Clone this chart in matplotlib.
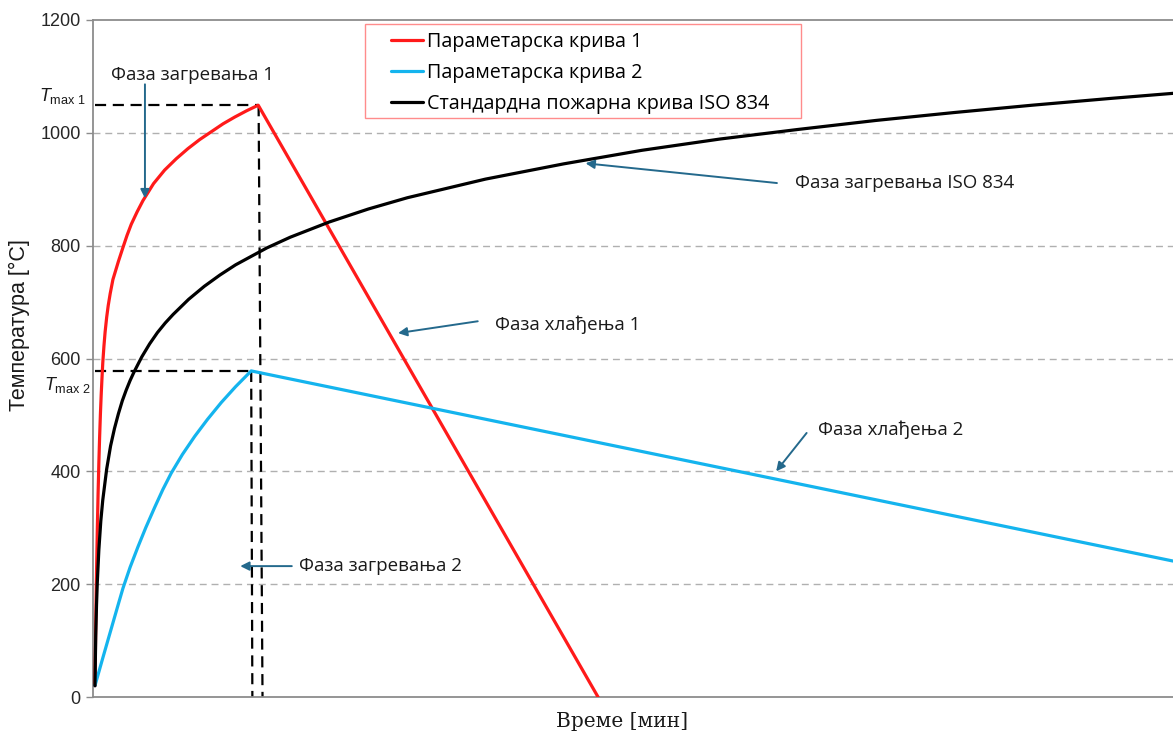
import matplotlib
matplotlib.use("Agg")
import matplotlib.pyplot as plt
import matplotlib.transforms as mtransforms
from matplotlib.patches import Rectangle

# ---- data (time in minutes, temperature in °C) ----
time_param1 = [0, 0.1, 0.2, 0.3, 0.4, 0.5, 0.6, 0.7, 0.8, 0.9, 1.0, 1.15, 1.3,
               1.5, 1.7, 1.95, 2.3, 3.0, 3.59, 4.1, 4.65, 5.4, 6.15, 7.5, 8.92,
               10.4, 11.9, 13.4, 14.9, 16.4, 17.9, 19.4, 20.9, 64.4]
temp_param1 = [20, 128, 219, 295, 360, 415, 462, 502, 536, 565, 592, 622, 647,
               673, 694, 715, 740, 772, 797, 818, 838, 860, 880, 910, 934,
               954, 972, 988, 1002, 1016, 1028, 1039, 1049, 0]

time_param2 = [0, 1, 2, 3, 3.59, 4.5, 5.5, 6.5, 7.64, 8.7, 9.77, 11.2, 12.77,
               14.4, 16.17, 18.0, 20.0, 138.0]
temp_param2 = [20, 69, 117, 165, 193, 230, 266, 300, 336, 368, 397, 430, 462,
               492, 522, 550, 578, 241]

time_iso = [0, 0.1, 0.2, 0.3, 0.5, 0.75, 1.0, 1.5, 2.0, 2.5, 3.0, 3.5, 4.0,
            4.5, 5.0, 6.0, 7.0, 8.0, 9.0, 10, 12, 14, 16, 18, 20, 22, 25, 30,
            35, 40, 50, 60, 70, 80, 90, 100, 110, 120, 130, 138]
temp_iso = [20, 108, 163, 203, 261, 312, 349, 404, 445, 476, 502, 525, 544,
            561, 576, 603, 626, 646, 663, 678, 705, 728, 748, 766, 781, 796,
            815, 842, 865, 885, 918, 945, 969, 989, 1006, 1022, 1036, 1049,
            1061, 1070]

series_labels = ["Параметарска крива 1", "Параметарска крива 2",
                 "Стандардна пожарна крива ISO 834"]
y_ticks = [0, 200, 400, 600, 800, 1000, 1200]

i_peak1 = temp_param1.index(max(temp_param1))
i_peak2 = temp_param2.index(max(temp_param2))
t_max1, T_max1 = time_param1[i_peak1], temp_param1[i_peak1]
t_max2, T_max2 = time_param2[i_peak2], temp_param2[i_peak2]

# ---- style ----
plt.rcParams["mathtext.fontset"] = "custom"
plt.rcParams["mathtext.rm"] = "Liberation Sans"
plt.rcParams["mathtext.it"] = "Liberation Sans:italic"
ANN_FONT = ["Open Sans", "DejaVu Sans"]
ANN_SIZE = 13.5
LEG_SIZE = 14.2
ARROW_COL = "#24698c"
RED = "#ff1a1a"
BLUE = "#14b4ee"

W, H = 1173, 737
fig = plt.figure(figsize=(W / 100, H / 100), dpi=100)
ax = fig.add_axes([93 / W, 1 - 697 / H, 1 - 93 / W, (697 - 20) / H])

ax.set_xlim(-0.25, 138)
ax.set_ylim(0, 1200)

# grid
for y in y_ticks[1:-1]:
    ax.axhline(y, color="#b0b0b0", lw=1.0, ls=(0, (5, 3.5)), zorder=1)

# reference dashed lines for the peaks
dash_kw = dict(color="black", lw=1.6, ls=(0, (5, 3)), zorder=2)
ax.plot([0, t_max1], [T_max1, T_max1], **dash_kw)
ax.plot([t_max1 + 0.05, t_max1 + 0.55], [T_max1, 0], **dash_kw)
ax.plot([0, t_max2], [T_max2, T_max2], **dash_kw)
ax.plot([t_max2, t_max2 + 0.15], [T_max2, 0], **dash_kw)

line_kw = dict(lw=2.3, zorder=4, solid_joinstyle="round", solid_capstyle="round")
l1, = ax.plot(time_param1, temp_param1, color=RED, label=series_labels[0], **line_kw)
l2, = ax.plot(time_param2, temp_param2, color=BLUE, label=series_labels[1], **line_kw)
l3, = ax.plot(time_iso, temp_iso, color="black", label=series_labels[2], **line_kw)

# axes styling
ax.set_xticks([])
ax.set_yticks(y_ticks)
ax.set_yticklabels([str(v) for v in y_ticks], fontsize=13,
                   family="Liberation Sans", color="#262626")
ax.tick_params(axis="y", length=5, width=1.0, color="#8c8c8c", pad=4)
for side in ("left", "bottom", "top"):
    ax.spines[side].set_color("#8c8c8c")
    ax.spines[side].set_linewidth(1.3)
ax.spines["right"].set_visible(False)

ax.set_ylabel("Температура [°C]", fontsize=15.5, family="Liberation Sans",
              color="#1a1a1a")
ax.yaxis.set_label_coords(-0.058, 0.55)
ax.set_xlabel("Време [мин]", fontsize=14.5, family="DejaVu Serif",
              color="#1a1a1a")
ax.xaxis.set_label_coords(0.49, -0.022)

# T_max labels beside the axis
blend = mtransforms.blended_transform_factory(ax.transAxes, ax.transData)
ax.text(-0.0065, 1056, r"$T_{\rm max\ 1}$", transform=blend, ha="right",
        va="baseline", fontsize=13, color="#1a1a1a", clip_on=False)
ax.text(-0.0025, 544, r"$T_{\rm max\ 2}$", transform=blend, ha="right",
        va="baseline", fontsize=13, color="#1a1a1a", clip_on=False)

# phase annotations
def phase(text, xytext, xyarrow, tail):
    ax.text(xytext[0], xytext[1], text, fontsize=ANN_SIZE, family=ANN_FONT,
            color="#1a1a1a", ha="left", va="center", zorder=6)
    ax.annotate("", xy=xyarrow, xytext=tail,
                arrowprops=dict(arrowstyle="-|>", color=ARROW_COL, lw=1.4,
                                mutation_scale=13, shrinkA=0, shrinkB=0),
                zorder=6)

phase("Фаза загревања 1", (2.1, 1102), (6.4, 884), (6.4, 1086))
phase("Фаза загревања ISO 834", (89.6, 911), (62.8, 946), (87.3, 911))
phase("Фаза хлађења 1", (51.2, 659), (38.8, 645), (49.0, 666))
phase("Фаза хлађења 2", (92.5, 473), (87.2, 400), (91.1, 468))
phase("Фаза загревања 2", (26.1, 232), (18.6, 232), (25.2, 232))

# legend box and entries
frame = Rectangle((365 / W, 1 - 118 / H), (801 - 365) / W, (118 - 24) / H,
                  transform=fig.transFigure, facecolor="white",
                  edgecolor="#ff8c8c", lw=1.0, zorder=8, clip_on=False)
ax.add_patch(frame)
leg = ax.legend(handles=[l1, l2, l3], loc="upper left",
                bbox_to_anchor=(391 / W, 1 - 32 / H),
                bbox_transform=fig.transFigure, frameon=False,
                prop={"family": ANN_FONT, "size": LEG_SIZE},
                handlelength=1.6, handletextpad=0.25, labelspacing=0.55,
                borderpad=0, borderaxespad=0)
leg.set_zorder(9)
for h in leg.legend_handles:
    h.set_linewidth(2.3)

fig.savefig("out.png", dpi=100)
